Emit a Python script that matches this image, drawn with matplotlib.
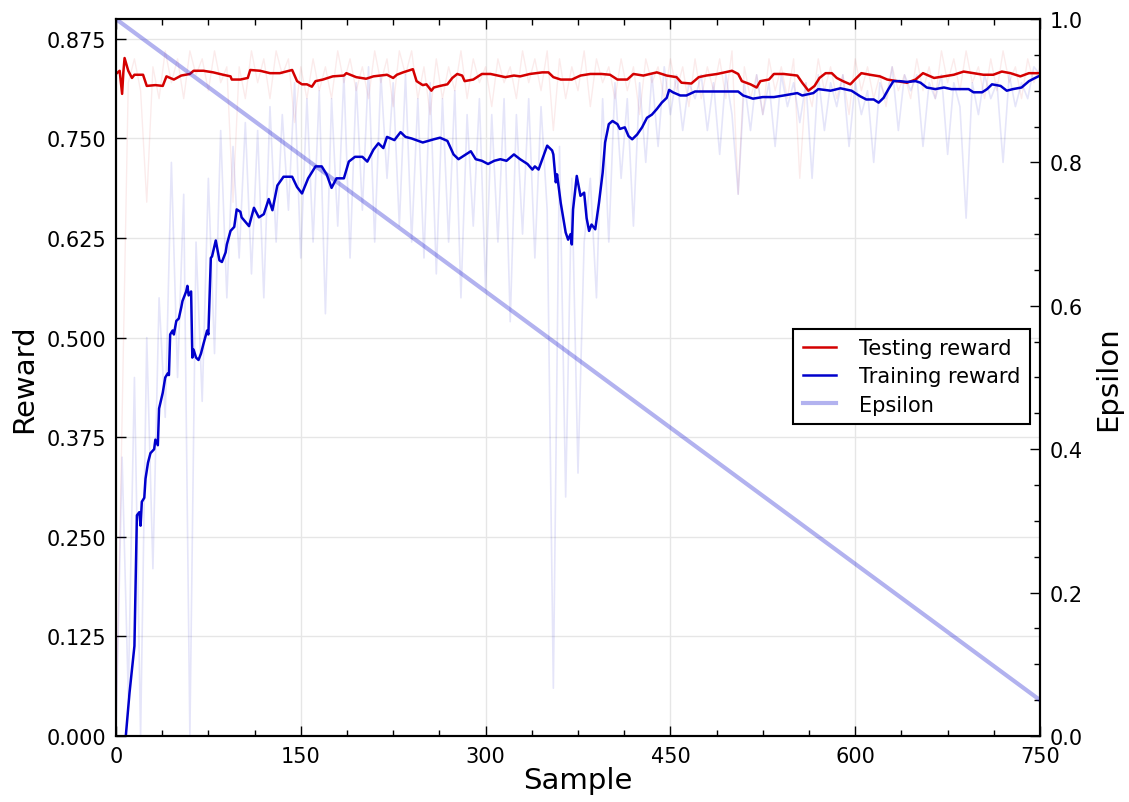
import numpy as np
import matplotlib.pyplot as plt
from matplotlib.ticker import MultipleLocator

# raw rewards, one value every 5 samples
raw_samples = list(range(0, 751, 5))
train_raw = [0.00, 0.35, 0.05, 0.45, 0.00, 0.50, 0.21, 0.55, 0.40, 0.72,
             0.45, 0.68, 0.00, 0.62, 0.42, 0.70, 0.48, 0.76, 0.55, 0.74,
             0.60, 0.77, 0.58, 0.76, 0.55, 0.79, 0.62, 0.78, 0.66, 0.82,
             0.60, 0.80, 0.62, 0.81, 0.53, 0.80, 0.64, 0.83, 0.60, 0.82,
             0.66, 0.84, 0.62, 0.83, 0.70, 0.82, 0.64, 0.83, 0.62, 0.80,
             0.60, 0.82, 0.58, 0.80, 0.62, 0.81, 0.55, 0.78, 0.64, 0.80,
             0.56, 0.78, 0.62, 0.80, 0.52, 0.78, 0.63, 0.80, 0.60, 0.79,
             0.66, 0.06, 0.74, 0.30, 0.70, 0.33, 0.62, 0.70, 0.55, 0.80,
             0.62, 0.82, 0.70, 0.80, 0.64, 0.82, 0.72, 0.83, 0.74, 0.84,
             0.78, 0.83, 0.76, 0.82, 0.80, 0.83, 0.76, 0.82, 0.73, 0.83,
             0.78, 0.68, 0.82, 0.76, 0.83, 0.78, 0.82, 0.74, 0.83, 0.79,
             0.82, 0.77, 0.82, 0.70, 0.83, 0.76, 0.82, 0.79, 0.83, 0.74,
             0.82, 0.78, 0.81, 0.72, 0.82, 0.80, 0.84, 0.76, 0.83, 0.81,
             0.83, 0.74, 0.82, 0.80, 0.83, 0.73, 0.82, 0.79, 0.65, 0.82,
             0.78, 0.83, 0.80, 0.82, 0.72, 0.83, 0.79, 0.82, 0.80, 0.84,
             0.83]
test_raw = [0.00, 0.40, 0.82, 0.85, 0.81, 0.67, 0.84, 0.80, 0.86, 0.82,
            0.85, 0.80, 0.86, 0.83, 0.85, 0.81, 0.86, 0.82, 0.84, 0.67,
            0.84, 0.80, 0.86, 0.82, 0.85, 0.80, 0.86, 0.83, 0.85, 0.77,
            0.84, 0.80, 0.85, 0.81, 0.84, 0.80, 0.86, 0.82, 0.85, 0.81,
            0.84, 0.80, 0.86, 0.82, 0.85, 0.79, 0.86, 0.83, 0.86, 0.80,
            0.84, 0.78, 0.85, 0.80, 0.84, 0.81, 0.86, 0.80, 0.85, 0.82,
            0.84, 0.79, 0.85, 0.82, 0.84, 0.80, 0.86, 0.82, 0.85, 0.81,
            0.86, 0.76, 0.85, 0.80, 0.84, 0.81, 0.86, 0.79, 0.85, 0.82,
            0.84, 0.80, 0.85, 0.81, 0.84, 0.78, 0.85, 0.82, 0.84, 0.80,
            0.85, 0.81, 0.84, 0.79, 0.85, 0.80, 0.84, 0.81, 0.85, 0.80,
            0.86, 0.68, 0.84, 0.80, 0.83, 0.78, 0.85, 0.81, 0.84, 0.80,
            0.85, 0.70, 0.82, 0.79, 0.85, 0.81, 0.84, 0.80, 0.83, 0.78,
            0.85, 0.81, 0.84, 0.80, 0.83, 0.79, 0.84, 0.81, 0.83, 0.80,
            0.85, 0.81, 0.84, 0.80, 0.86, 0.82, 0.85, 0.81, 0.86, 0.82,
            0.84, 0.80, 0.85, 0.81, 0.86, 0.82, 0.84, 0.80, 0.85, 0.82,
            0.84]

# smoothed rewards
train_s = [0, 8, 11, 15, 17, 19, 20, 21, 23, 24, 26, 28, 31, 32, 34, 35, 38, 40,
           42, 43, 44, 46, 47, 49, 51, 53, 54, 57, 58, 59, 61, 62, 63, 65, 67,
           69, 71, 74, 75, 77, 78, 81, 84, 86, 89, 90, 93, 96, 98, 101, 102, 108,
           112, 116, 120, 124, 127, 131, 136, 143, 147, 151, 156, 162, 167, 171,
           175, 179, 185, 189, 194, 200, 204, 209, 213, 217, 220, 226, 231, 235,
           240, 249, 258, 263, 269, 274, 278, 282, 288, 292, 297, 302, 307, 312,
           317, 323, 328, 334, 338, 340, 343, 347, 350, 354, 355, 357, 358, 361,
           365, 367, 369, 370, 371, 374, 377, 380, 382, 384, 386, 389, 392, 395,
           397, 400, 403, 407, 409, 413, 416, 419, 423, 427, 431, 435, 439, 443,
           447, 449, 452, 458, 463, 470, 479, 488, 496, 505, 509, 517, 525, 534,
           542, 553, 557, 566, 570, 580, 588, 597, 604, 609, 615, 619, 623, 627,
           631, 636, 642, 649, 653, 658, 665, 672, 678, 685, 692, 696, 703, 707,
           711, 718, 723, 728, 735, 741, 746, 750]
train_smooth = [-0.15, 0.0, 0.054, 0.113, 0.277, 0.281, 0.264, 0.294, 0.299,
                0.323, 0.343, 0.355, 0.360, 0.372, 0.365, 0.411, 0.431, 0.450,
                0.455, 0.453, 0.504, 0.509, 0.504, 0.521, 0.524, 0.538, 0.546,
                0.558, 0.565, 0.553, 0.558, 0.475, 0.485, 0.475, 0.472, 0.480,
                0.492, 0.509, 0.504, 0.600, 0.602, 0.622, 0.597, 0.595, 0.607,
                0.617, 0.634, 0.639, 0.661, 0.658, 0.651, 0.640, 0.663, 0.651,
                0.655, 0.674, 0.660, 0.691, 0.702, 0.702, 0.689, 0.681, 0.700,
                0.715, 0.715, 0.705, 0.688, 0.700, 0.700, 0.721, 0.727, 0.727,
                0.721, 0.736, 0.744, 0.738, 0.752, 0.748, 0.758, 0.752, 0.750,
                0.745, 0.749, 0.751, 0.747, 0.730, 0.724, 0.728, 0.734, 0.724,
                0.722, 0.718, 0.722, 0.724, 0.722, 0.730, 0.724, 0.718, 0.711,
                0.715, 0.711, 0.728, 0.741, 0.735, 0.730, 0.695, 0.705, 0.669,
                0.632, 0.623, 0.630, 0.617, 0.661, 0.703, 0.678, 0.682, 0.650,
                0.634, 0.642, 0.636, 0.669, 0.707, 0.745, 0.768, 0.772, 0.768,
                0.762, 0.764, 0.753, 0.749, 0.755, 0.764, 0.776, 0.780, 0.787,
                0.795, 0.801, 0.811, 0.808, 0.804, 0.804, 0.809, 0.809, 0.809,
                0.809, 0.809, 0.804, 0.800, 0.802, 0.802, 0.804, 0.807, 0.804,
                0.807, 0.812, 0.810, 0.813, 0.810, 0.803, 0.799, 0.799, 0.795,
                0.801, 0.812, 0.822, 0.822, 0.821, 0.822, 0.820, 0.814, 0.812,
                0.814, 0.812, 0.812, 0.812, 0.808, 0.808, 0.812, 0.818, 0.816,
                0.810, 0.812, 0.814, 0.822, 0.826, 0.829]

test_s = [0, 3, 5, 6, 7, 10, 13, 15, 22, 25, 32, 38, 41, 47, 53, 60, 63, 71,
          79, 87, 93, 94, 101, 107, 109, 117, 125, 133, 143, 147, 151, 155, 159,
          162, 168, 176, 185, 187, 195, 203, 209, 220, 225, 228, 233, 239, 241,
          244, 249, 252, 256, 258, 263, 269, 273, 277, 281, 283, 290, 297, 304,
          310, 316, 323, 328, 336, 346, 351, 355, 361, 370, 377, 385, 394, 401,
          407, 415, 420, 428, 439, 447, 455, 459, 467, 473, 479, 488, 494, 500,
          505, 508, 515, 520, 523, 530, 534, 542, 553, 557, 562, 567, 571, 576,
          581, 585, 590, 596, 601, 605, 612, 620, 626, 634, 642, 649, 655, 664,
          672, 680, 688, 696, 704, 712, 719, 726, 734, 741, 750]
test_smooth = [0.831, 0.835, 0.806, 0.833, 0.851, 0.835, 0.826, 0.830, 0.830,
               0.816, 0.817, 0.816, 0.828, 0.824, 0.829, 0.831, 0.835, 0.835,
               0.833, 0.830, 0.828, 0.824, 0.824, 0.826, 0.836, 0.835, 0.832,
               0.832, 0.836, 0.822, 0.818, 0.818, 0.815, 0.822, 0.824, 0.828,
               0.829, 0.832, 0.827, 0.825, 0.828, 0.830, 0.826, 0.830, 0.833,
               0.836, 0.837, 0.822, 0.817, 0.818, 0.810, 0.814, 0.816, 0.818,
               0.826, 0.831, 0.829, 0.822, 0.824, 0.831, 0.831, 0.829, 0.827,
               0.829, 0.828, 0.831, 0.833, 0.833, 0.827, 0.824, 0.824, 0.829,
               0.831, 0.831, 0.830, 0.824, 0.824, 0.831, 0.829, 0.833, 0.829,
               0.827, 0.820, 0.819, 0.827, 0.829, 0.831, 0.833, 0.835, 0.831,
               0.822, 0.818, 0.814, 0.822, 0.824, 0.831, 0.831, 0.829, 0.820,
               0.810, 0.816, 0.826, 0.832, 0.832, 0.826, 0.822, 0.818, 0.826,
               0.832, 0.830, 0.828, 0.824, 0.822, 0.820, 0.824, 0.832, 0.826,
               0.828, 0.830, 0.834, 0.832, 0.830, 0.830, 0.834, 0.832, 0.828,
               0.832, 0.832]

# exploration rate
eps_samples = [0, 750]
eps_values = [1.0, 0.05]

RED = '#d40000'
BLUE = '#0000cc'

plt.rcParams['font.family'] = 'DejaVu Sans'
fig = plt.figure(figsize=(11.29, 8.03), dpi=100)
ax = fig.add_axes([0.1027, 0.0822, 0.8185, 0.8929])
ax2 = ax.twinx()

ax.plot(raw_samples, test_raw, color=RED, alpha=0.08, lw=1)
ax.plot(raw_samples, train_raw, color=BLUE, alpha=0.1, lw=1.2)
l1, = ax.plot(test_s, test_smooth, color=RED, lw=1.8, label='Testing reward')
l2, = ax.plot(train_s, train_smooth, color=BLUE, lw=1.8, label='Training reward')
l3, = ax2.plot(eps_samples, eps_values, color=BLUE, alpha=0.3, lw=3, label='Epsilon')

ax.set_xlim(0, 750)
ax.set_ylim(0, 0.9)
ax2.set_ylim(0, 1.0)

ax.xaxis.set_major_locator(MultipleLocator(150))
ax.xaxis.set_minor_locator(MultipleLocator(37.5))
ax.yaxis.set_major_locator(MultipleLocator(0.125))
ax.yaxis.set_major_formatter(plt.FormatStrFormatter('%.3f'))
ax2.yaxis.set_major_locator(MultipleLocator(0.2))
ax2.yaxis.set_minor_locator(MultipleLocator(0.05))
ax2.yaxis.set_major_formatter(plt.FormatStrFormatter('%.1f'))

ax.grid(True, which='major', color='#e6e6e6', lw=1)
ax.set_axisbelow(True)

ax.tick_params(which='both', direction='in', top=True, labelsize=15, pad=7)
ax.tick_params(which='major', length=7, width=1)
ax.tick_params(which='minor', length=4, width=1)
ax2.tick_params(which='both', direction='in', labelsize=15, pad=7)
ax2.tick_params(which='major', length=7, width=1)
ax2.tick_params(which='minor', length=4, width=1)

for a in (ax, ax2):
    for sp in a.spines.values():
        sp.set_linewidth(1.5)

ax.set_xlabel('Sample', fontsize=21, labelpad=0)
ax.set_ylabel('Reward', fontsize=21, labelpad=6)
ax2.set_ylabel('Epsilon', fontsize=21, labelpad=8)

leg = ax2.legend(handles=[l1, l2, l3], loc='upper right',
                 bbox_to_anchor=(0.989, 0.568), borderaxespad=0,
                 fontsize=15, fancybox=False, framealpha=1,
                 edgecolor='black', handlelength=1.6, handletextpad=1.1,
                 labelspacing=0.4, borderpad=0.45)
leg.get_frame().set_linewidth(1.5)

fig.savefig('out.png', dpi=100)
